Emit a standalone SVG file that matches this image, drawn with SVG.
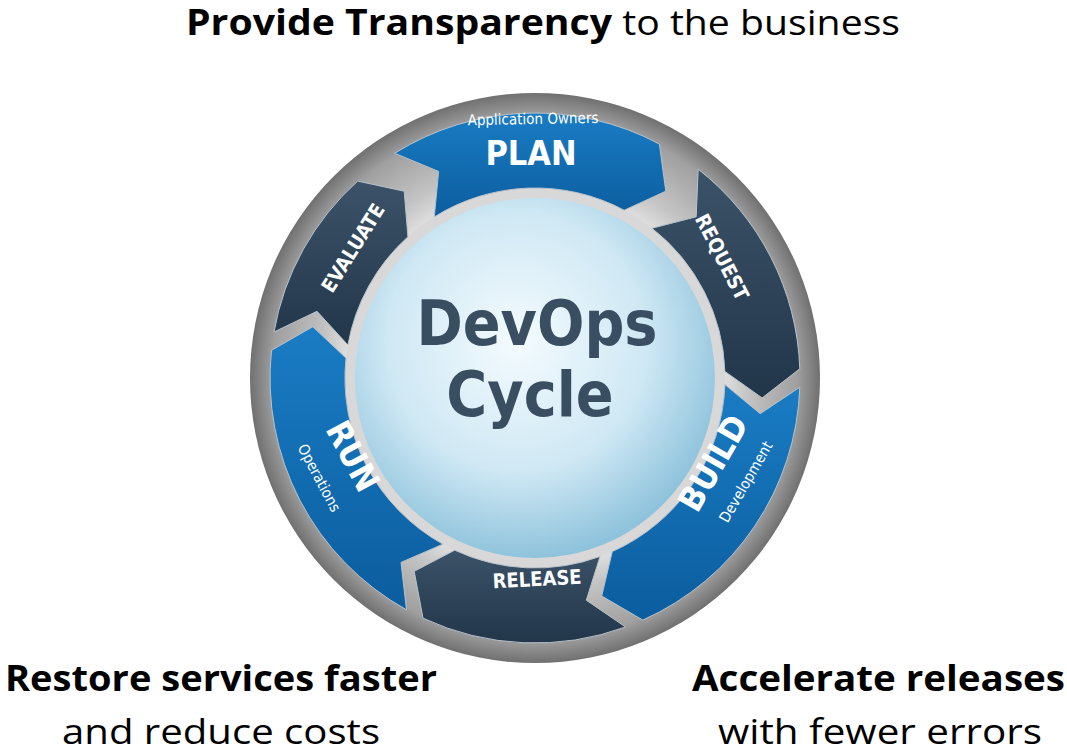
<svg xmlns="http://www.w3.org/2000/svg" width="1067" height="755" viewBox="0 0 1067 755">
<style>
.h{font-family:"Open Sans","Liberation Sans",sans-serif;font-size:35px;fill:#000}
.b{font-weight:bold}
.blue{fill:url(#gb)}
.dark{fill:url(#gd)}
.seg{stroke:#b8c2ca;stroke-width:1}
.lb{font-family:"DejaVu Sans Condensed","DejaVu Sans",sans-serif;font-weight:bold;fill:#fff;text-anchor:middle;dominant-baseline:central}
.sm{font-family:"DejaVu Sans Condensed","DejaVu Sans",sans-serif;fill:#fff;text-anchor:middle;font-size:15px;dominant-baseline:central}
.ctr{font-family:"DejaVu Sans Condensed","DejaVu Sans",sans-serif;font-weight:bold;font-size:62px;fill:#3a4e62;text-anchor:middle}
</style>
<defs>
<radialGradient id="gc" cx="0.45" cy="0.4" r="0.6"><stop offset="0" stop-color="#f4fbfe"/><stop offset="0.6" stop-color="#cfe8f4"/><stop offset="1" stop-color="#8fc3dc"/></radialGradient>
<radialGradient id="gr" cx="0.5" cy="0.5" r="0.5"><stop offset="0.6" stop-color="#f2f2f2"/><stop offset="0.75" stop-color="#c4c4c4"/><stop offset="0.92" stop-color="#a0a0a0"/><stop offset="1" stop-color="#707070"/></radialGradient>
<linearGradient id="gb" x1="0" y1="0" x2="0" y2="1"><stop offset="0" stop-color="#1a7cc4"/><stop offset="1" stop-color="#0b5d9e"/></linearGradient>
<linearGradient id="gd" x1="0" y1="0" x2="0" y2="1"><stop offset="0" stop-color="#3b5268"/><stop offset="1" stop-color="#22364a"/></linearGradient>
</defs>
<text class="h" x="186" y="35" textLength="714" lengthAdjust="spacingAndGlyphs"><tspan class="b">Provide Transparency</tspan> to the business</text>
<text class="h b" x="5" y="691" textLength="432" lengthAdjust="spacingAndGlyphs">Restore services faster</text>
<text class="h" x="62" y="744" textLength="318" lengthAdjust="spacingAndGlyphs">and reduce costs</text>
<text class="h b" x="692" y="691" textLength="373" lengthAdjust="spacingAndGlyphs">Accelerate releases</text>
<text class="h" x="718" y="744" textLength="324" lengthAdjust="spacingAndGlyphs">with fewer errors</text>
<g id="ring"><circle cx="535" cy="378" r="285" fill="url(#gr)"/><circle cx="535" cy="378" r="190" fill="#d8d8d8"/></g>
<g id="center"><circle cx="535" cy="378" r="180" fill="url(#gc)"/>
<text class="ctr" x="537" y="345">DevOps</text><text class="ctr" x="530" y="416">Cycle</text></g>
<g id="connectors">
<g id="plan"><path class="blue seg" d="M394.6,153.3 A265,265 0 0 1 659.4,144.0 L665.8,191.2 L624.2,210.2 A190,190 0 0 0 434.3,216.9 L438.6,171.4 Z"/>
<text class="lb" x="531" y="153" font-size="34">PLAN</text>
<text class="sm" x="533" y="119" transform="rotate(-1 533 119)">Application Owners</text></g>
<g id="request"><path class="dark seg" d="M698.2,169.2 A265,265 0 0 1 799.8,368.8 L762.1,397.9 L724.9,371.4 A190,190 0 0 0 652.0,228.3 L696.2,216.8 Z"/>
<text class="lb" x="722" y="257" font-size="20" transform="rotate(63 722 257)">REQUEST</text></g>
<g id="build"><path class="blue seg" d="M799.8,387.2 A265,265 0 0 1 642.8,620.1 L601.7,596.0 L612.3,551.6 A190,190 0 0 0 724.9,384.6 L760.2,413.7 Z"/>
<text class="lb" x="713" y="463" font-size="34" transform="rotate(-60 713 463)">BUILD</text>
<text class="sm" x="746" y="482" transform="rotate(-60 746 482)">Development</text></g>
<g id="release"><path class="dark seg" d="M625.6,627.0 A265,265 0 0 1 423.0,618.2 L414.2,571.3 L454.7,550.2 A190,190 0 0 0 600.0,556.5 L586.3,600.2 Z"/>
<text class="lb" x="537" y="579" font-size="20" transform="rotate(-3 537 579)">RELEASE</text></g>
<g id="run"><path class="blue seg" d="M406.5,609.8 A265,265 0 0 1 271.5,350.3 L312.8,326.7 L346.0,358.1 A190,190 0 0 0 442.9,544.2 L401.0,562.4 Z"/>
<text class="lb" x="353" y="456" font-size="34" transform="rotate(62 353 456)">RUN</text>
<text class="sm" x="319" y="478" transform="rotate(62 319 478)">Operations</text></g>
<g id="evaluate"><path class="dark seg" d="M274.0,332.0 A265,265 0 0 1 357.7,181.1 L404.2,191.2 L407.9,236.8 A190,190 0 0 0 347.9,345.0 L317.0,311.3 Z"/>
<text class="lb" x="353" y="248" font-size="20" transform="rotate(-58 353 248)">EVALUATE</text></g>
</g>
</svg>
